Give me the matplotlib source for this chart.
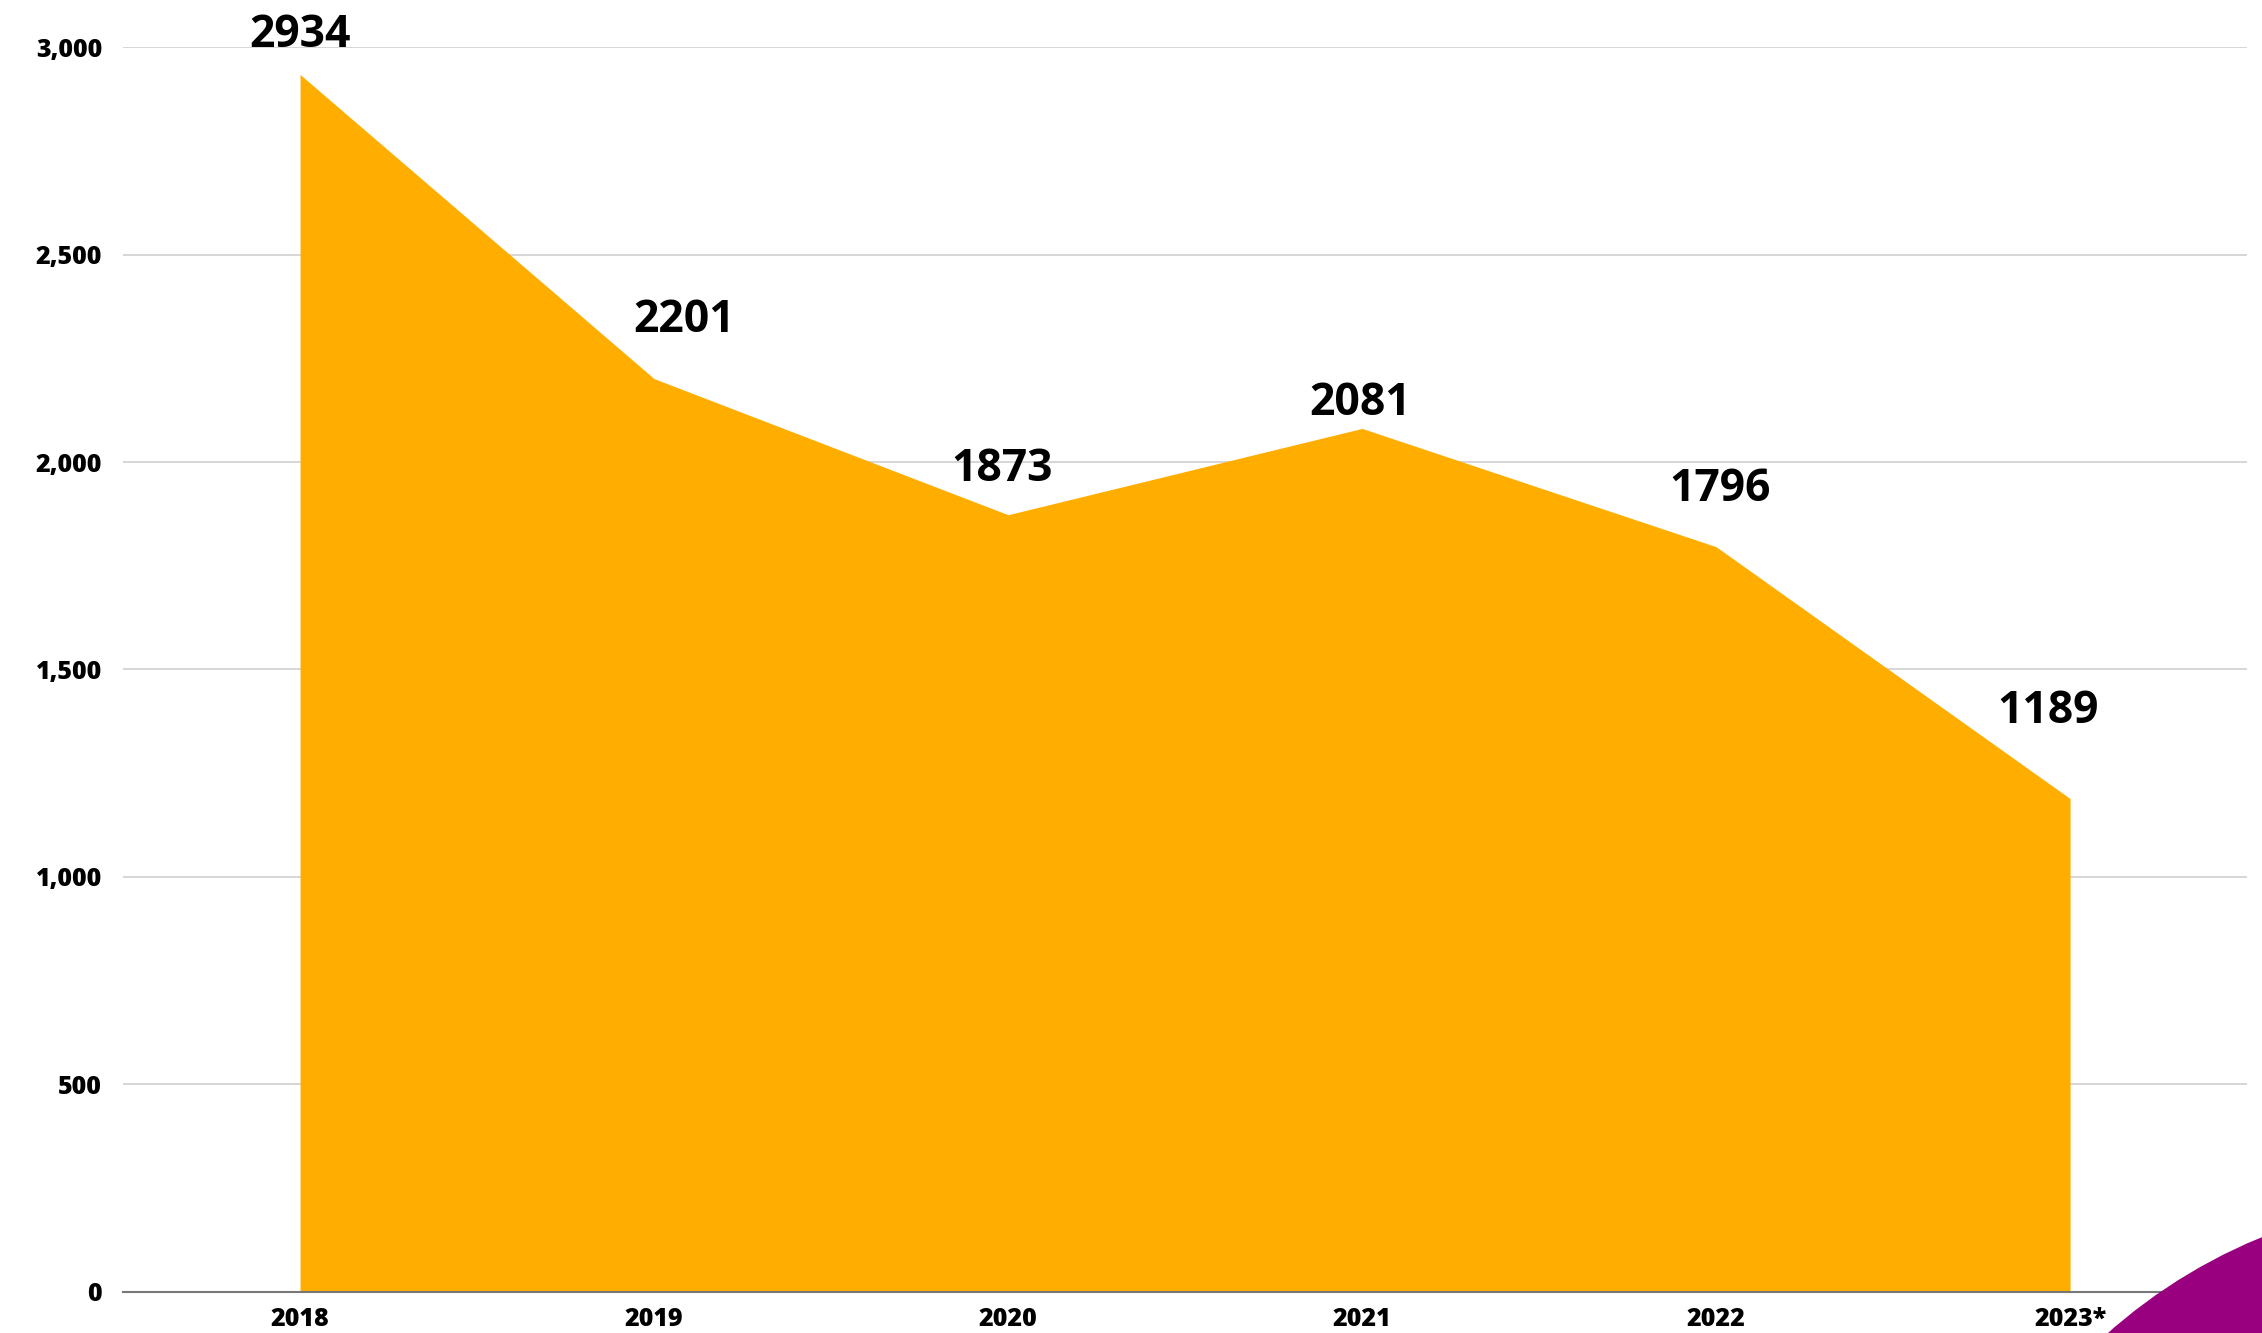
import matplotlib.pyplot as plt
from matplotlib.patches import Ellipse
from matplotlib.ticker import FuncFormatter

years = ['2018', '2019', '2020', '2021', '2022', '2023*']
values = [2934, 2201, 1873, 2081, 1796, 1189]
y_ticks = [0, 500, 1000, 1500, 2000, 2500, 3000]

# label nudges (points) to mimic the hand-placed labels in the original
label_dx = [0, 21.6, -4.3, -1.4, 2.9, -15.8]
label_dy = [19.4, 33.5, 24.5, 9.4, 33.1, 54.4]

plt.rcParams['font.family'] = ['Open Sans', 'DejaVu Sans']

fig = plt.figure(figsize=(22.62, 13.33), dpi=100)
ax = fig.add_axes([0.0544, 0.0308, 0.9390, 0.9339])

x = list(range(len(years)))
ax.fill_between(x, values, 0, color='#FFAE00', linewidth=0, zorder=2)

for xi, v, dx, dy in zip(x, values, label_dx, label_dy):
    ax.annotate(str(v), (xi, v), xytext=(dx, dy), textcoords='offset points',
                ha='center', va='baseline', fontsize=32, fontweight='bold',
                color='#000000', clip_on=False, zorder=5)

ax.set_xlim(-0.5, 5.5)
ax.set_ylim(0, 3000)
ax.set_xticks(x)
ax.set_xticklabels(years)
ax.set_yticks(y_ticks)
ax.yaxis.set_major_formatter(FuncFormatter(lambda v, p: f'{int(v):,}'))

for lab in ax.get_xticklabels() + ax.get_yticklabels():
    lab.set_fontweight('heavy')
    lab.set_fontsize(18)

ax.tick_params(axis='both', length=0)
ax.tick_params(axis='y', pad=15)
ax.tick_params(axis='x', pad=11)

ax.grid(axis='y', color='#d3d3d3', linewidth=1.3, zorder=0)
ax.set_axisbelow(True)
for s in ['top', 'right', 'left']:
    ax.spines[s].set_visible(False)
ax.spines['bottom'].set_color('#777777')
ax.spines['bottom'].set_linewidth(1.5)
ax.spines['bottom'].set_zorder(3)

# decorative purple circle in the corner
circle = Ellipse((2465 / 2262, 1 - 1735 / 1333), 2 * 537 / 2262, 2 * 537 / 1333,
                 transform=fig.transFigure, color='#990080', zorder=10)
fig.patches.append(circle)

fig.savefig('out.png', dpi=100)
